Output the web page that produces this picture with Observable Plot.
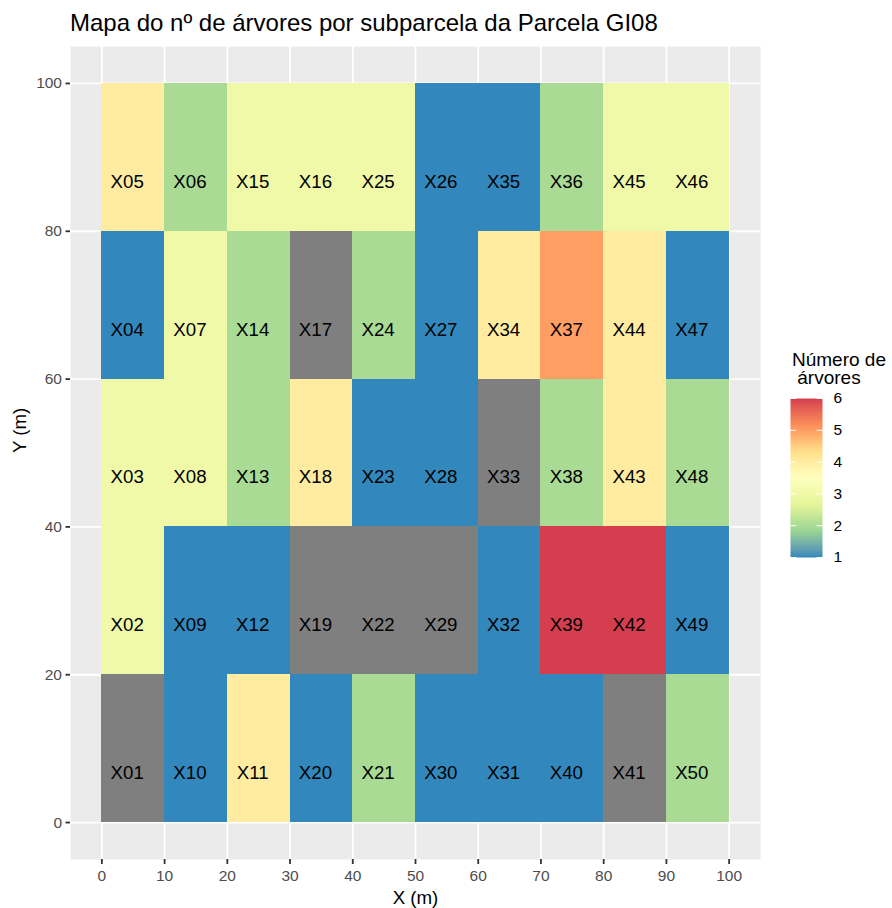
<!DOCTYPE html>
<html>
<head>
<meta charset="utf-8">
<script src="https://cdn.jsdelivr.net/npm/d3@7"></script>
<script src="https://cdn.jsdelivr.net/npm/@observablehq/plot@0.6"></script>
<style>
  html, body { margin: 0; padding: 0; background: #ffffff; }
  #fig { position: relative; width: 892px; height: 908px; font-family: "Liberation Sans", Arial, sans-serif; }
  #title { position: absolute; left: 70px; top: 11px; font-size: 24px; line-height: 24px; color: #000; white-space: nowrap; }
  #chart { position: absolute; left: 0; top: 40px; }
  #legend-title { position: absolute; left: 792px; top: 351px; font-size: 19px; line-height: 18px; color: #000; white-space: pre; }
  #legend { position: absolute; left: 790px; top: 390px; }
  #fig svg [aria-label="x-axis tick label"],
  #fig svg [aria-label="y-axis tick label"] { font-size: 15.5px; }
</style>
</head>
<body>
<div id="fig">
  <div id="title">Mapa do nº de árvores por subparcela da Parcela GI08</div>
  <div id="chart"></div>
  <div id="legend-title">Número de
 árvores</div>
  <div id="legend"></div>
</div>
<script>
// Subplot identifiers of plot GI08
const subplots = [
  "X01","X02","X03","X04","X05","X06","X07","X08","X09","X10",
  "X11","X12","X13","X14","X15","X16","X17","X18","X19","X20",
  "X21","X22","X23","X24","X25","X26","X27","X28","X29","X30",
  "X31","X32","X33","X34","X35","X36","X37","X38","X39","X40",
  "X41","X42","X43","X44","X45","X46","X47","X48","X49","X50"
];
// Centre of each subplot (m)
const centreX = [
   5, 5, 5, 5, 5,  15,15,15,15,15,  25,25,25,25,25,  35,35,35,35,35,
  45,45,45,45,45,  55,55,55,55,55,  65,65,65,65,65,  75,75,75,75,75,
  85,85,85,85,85,  95,95,95,95,95
];
const centreY = [
  10,30,50,70,90,  90,70,50,30,10,  10,30,50,70,90,  90,70,50,30,10,
  10,30,50,70,90,  90,70,50,30,10,  10,30,50,70,90,  90,70,50,30,10,
  10,30,50,70,90,  90,70,50,30,10
];
// Number of trees per subplot (null = no trees recorded)
const trees = [
  null, 3, 3, 1, 4,   2, 3, 3, 1, 1,
     4, 1, 2, 2, 3,   3, null, 4, null, 1,
     2, null, 1, 2, 3,   1, 1, 1, null, 1,
     1, 1, null, 4, 1,   2, 5, 2, 6, 1,
  null, 6, 4, 4, 3,   3, 1, 2, 1, 2
];
const xTicks = [0, 10, 20, 30, 40, 50, 60, 70, 80, 90, 100];
const yTicks = [0, 20, 40, 60, 80, 100];
const legendTicks = [1, 2, 3, 4, 5, 6];

// Brewer "Spectral" (7 classes), low values in blue
const spectral = ["#3288BD", "#99D594", "#E6F598", "#FFFFBF", "#FEE08B", "#FC8D59", "#D53E4F"];
const ramp = d3.piecewise(d3.interpolateLab, spectral);
const naColour = "#7F7F7F";

const cellW = 10, cellH = 20;
const cells = subplots.map((id, i) => ({id, x: centreX[i], y: centreY[i], n: trees[i]}));

const colour = {type: "linear", domain: [1, 6], interpolate: ramp, unknown: naColour};
const font = "'Liberation Sans', Arial, sans-serif";

const chart = Plot.plot({
  width: 892,
  height: 868,
  marginLeft: 70,
  marginRight: 132,
  marginTop: 6,
  marginBottom: 49,
  style: {fontFamily: font, fontSize: "15px", background: "transparent", overflow: "visible"},
  x: {domain: [-5, 105], axis: null},
  y: {domain: [-5, 105], axis: null},
  color: colour,
  marks: [
    Plot.frame({fill: "#EBEBEB", stroke: "none"}),
    Plot.gridX(xTicks, {stroke: "#ffffff", strokeOpacity: 1, strokeWidth: 1.8}),
    Plot.gridY(yTicks, {stroke: "#ffffff", strokeOpacity: 1, strokeWidth: 1.8}),
    Plot.rect(cells.filter(d => d.n == null), {
      x1: d => d.x - cellW / 2, x2: d => d.x + cellW / 2,
      y1: d => d.y - cellH / 2, y2: d => d.y + cellH / 2,
      fill: naColour, shapeRendering: "crispEdges"
    }),
    Plot.rect(cells.filter(d => d.n != null), {
      x1: d => d.x - cellW / 2, x2: d => d.x + cellW / 2,
      y1: d => d.y - cellH / 2, y2: d => d.y + cellH / 2,
      fill: "n", shapeRendering: "crispEdges"
    }),
    Plot.text(cells, {x: "x", y: "y", text: "id", dx: -6, dy: 24.5, fontSize: 18.7, fill: "#000000"}),
    Plot.axisX(xTicks, {tickSize: 5, tickPadding: 5, fill: "#4D4D4D", stroke: "#333333", strokeWidth: 1.8, label: null}),
    Plot.axisY(yTicks, {tickSize: 4.5, tickPadding: 4, fill: "#4D4D4D", stroke: "#333333", strokeWidth: 1.8, label: null}),
    Plot.text(["X (m)"], {text: d => d, frameAnchor: "bottom", dy: 44, fontSize: 18.7, fill: "#000000"}),
    Plot.text(["Y (m)"], {text: d => d, frameAnchor: "left", dx: -50, rotate: -90, fontSize: 18.7, fill: "#000000"})
  ]
});
document.getElementById("chart").appendChild(chart);

// Colour bar
const legend = Plot.plot({
  width: 92,
  height: 177,
  marginLeft: 0,
  marginRight: 60,
  marginTop: 8,
  marginBottom: 10,
  style: {fontFamily: font, fontSize: "15px", background: "transparent", overflow: "visible"},
  x: {domain: [0, 1], axis: null},
  y: {domain: [1, 6], axis: null},
  color: colour,
  marks: [
    Plot.raster({x1: 0, x2: 1, y1: 1, y2: 6, fill: (x, y) => y}),
    Plot.axisY(legendTicks, {anchor: "left", tickSize: -6.4, stroke: "#ffffff", strokeWidth: 1, fill: "none", label: null}),
    Plot.axisY(legendTicks, {anchor: "right", tickSize: -6.4, stroke: "#ffffff", strokeWidth: 1, fill: "none", label: null}),
    Plot.axisY(legendTicks, {anchor: "right", tickSize: 0, tickPadding: 11, fill: "#000000", label: null})
  ]
});
document.getElementById("legend").appendChild(legend);
</script>
</body>
</html>
